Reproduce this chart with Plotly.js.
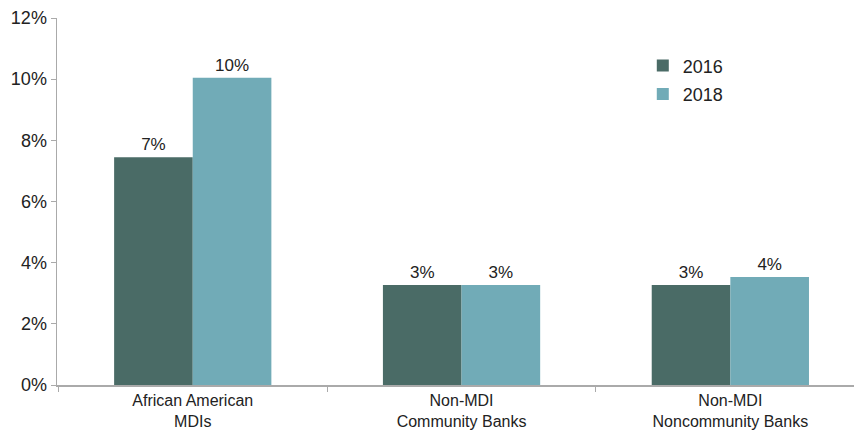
<!DOCTYPE html>
<html>
<head>
<meta charset="utf-8">
<script src="https://cdn.plot.ly/plotly-3.0.1.min.js"></script>
<style>html,body{margin:0;padding:0;background:#fff;}#chart{width:854px;height:431px;}</style>
</head>
<body>
<div id="chart"></div>
<script>
const categories = ["African American<br>MDIs", "Non-MDI<br>Community Banks", "Non-MDI<br>Noncommunity Banks"];
const values2016 = [7.45, 3.27, 3.27];
const values2018 = [10.05, 3.27, 3.53];
const seriesNames = ["2016", "2018"];
const yTicks = [0, 2, 4, 6, 8, 10, 12];
const yTickLabels = ["0%", "2%", "4%", "6%", "8%", "10%", "12%"];

const textFont = {family: "Liberation Sans, Arial, sans-serif", size: 17, color: "#222"};

const traces = [
  {type: "bar", name: seriesNames[0], legendgroup: "a", x: categories, y: values2016,
   marker: {color: "#4a6b66"}, texttemplate: "%{y:.0f}%", textposition: "outside",
   textfont: textFont, cliponaxis: false, hoverinfo: "none"},
  {type: "bar", name: seriesNames[1], legendgroup: "b", x: categories, y: values2018,
   marker: {color: "#71abb7"}, texttemplate: "%{y:.0f}%", textposition: "outside",
   textfont: textFont, cliponaxis: false, hoverinfo: "none"}
];

const layout = {
  width: 854, height: 431,
  margin: {l: 57, r: 0, t: 18, b: 46},
  paper_bgcolor: "#fff", plot_bgcolor: "#fff",
  barmode: "group", bargap: 0.415, bargroupgap: 0,
  font: textFont,
  showlegend: true,
  legend: {x: 0.735, y: 0.92, xanchor: "left", yanchor: "top", bgcolor: "rgba(0,0,0,0)",
           font: {family: "Liberation Sans, Arial, sans-serif", size: 18, color: "#222"},
           itemwidth: 30, tracegroupgap: 2},
  xaxis: {range: [-0.505, 2.46], showline: true, linecolor: "#aaa", linewidth: 1.5,
          ticks: "outside", tickson: "boundaries", ticklen: 5, tickcolor: "#aaa",
          tickfont: {family: "Liberation Sans, Arial, sans-serif", size: 16, color: "#222"},
          showgrid: false, zeroline: false, fixedrange: true},
  yaxis: {range: [0, 12], tickvals: yTicks, ticktext: yTickLabels, showline: true, linecolor: "#aaa", linewidth: 1.5,
          ticks: "outside", ticklen: 5, tickcolor: "#aaa", showgrid: false, zeroline: false,
          tickfont: {family: "Liberation Sans, Arial, sans-serif", size: 18, color: "#222"}, fixedrange: true}
};

Plotly.newPlot("chart", traces, layout, {displayModeBar: false, staticPlot: true});
</script>
</body>
</html>
